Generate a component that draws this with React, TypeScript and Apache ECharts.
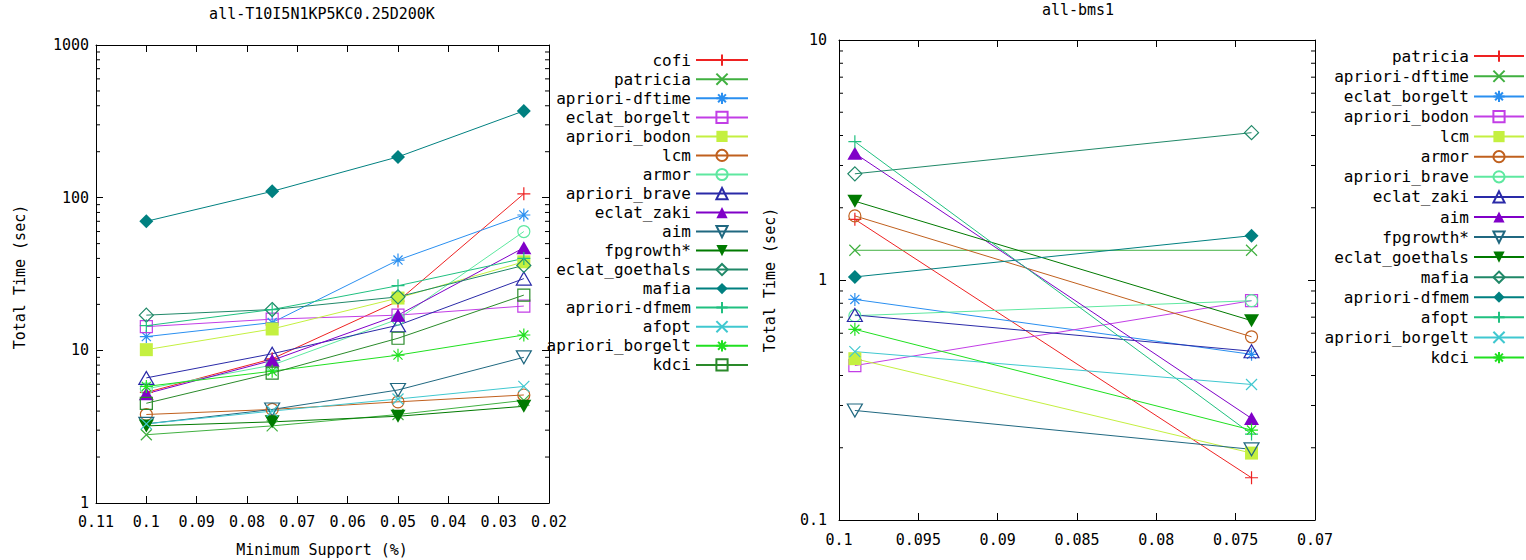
import React, { useEffect, useRef } from 'react';
import * as echarts from 'echarts';

// ---------------- data ----------------
const leftTitle = 'all-T10I5N1KP5KC0.25D200K';
const rightTitle = 'all-bms1';
const yAxisTitle = 'Total Time (sec)';
const xAxisTitle = 'Minimum Support (%)';

const leftSupport = [0.1, 0.075, 0.05, 0.025];
const rightSupport = [0.099, 0.074];

const leftNames = [
  'cofi', 'patricia', 'apriori-dftime', 'eclat_borgelt', 'apriori_bodon', 'lcm', 'armor',
  'apriori_brave', 'eclat_zaki', 'aim', 'fpgrowth*', 'eclat_goethals', 'mafia',
  'apriori-dfmem', 'afopt', 'apriori_borgelt', 'kdci',
];
const lCofi = [5.3, 8.8, 21, 106];
const lPatricia = [2.8, 3.2, 3.8, 4.7];
const lAprioriDftime = [12.3, 15.2, 39, 77];
const lEclatBorgelt = [14.3, 16, 17, 19.5];
const lAprioriBodon = [10.1, 13.8, 22, 38];
const lLcm = [3.8, 4.1, 4.6, 5.1];
const lArmor = [5.6, 8.0, 16, 60];
const lAprioriBrave = [6.6, 9.5, 14.6, 29.5];
const lEclatZaki = [5.2, 8.6, 17, 47];
const lAim = [3.3, 4.1, 5.5, 9.0];
const lFpgrowth = [3.2, 3.4, 3.7, 4.3];
const lEclatGoethals = [17, 18.5, 22.4, 36];
const lMafia = [70, 110, 185, 370];
const lAprioriDfmem = [14.5, 18.5, 26.5, 40];
const lAfopt = [3.3, 4.0, 4.8, 5.8];
const lAprioriBorgelt = [5.8, 7.3, 9.3, 12.6];
const lKdci = [4.5, 7.1, 12, 23];
const leftValues = [
  lCofi, lPatricia, lAprioriDftime, lEclatBorgelt, lAprioriBodon, lLcm, lArmor, lAprioriBrave,
  lEclatZaki, lAim, lFpgrowth, lEclatGoethals, lMafia, lAprioriDfmem, lAfopt, lAprioriBorgelt, lKdci,
];

const rightNames = [
  'patricia', 'apriori-dftime', 'eclat_borgelt', 'apriori_bodon', 'lcm', 'armor', 'apriori_brave',
  'eclat_zaki', 'aim', 'fpgrowth*', 'eclat_goethals', 'mafia', 'apriori-dfmem', 'afopt',
  'apriori_borgelt', 'kdci',
];
const rPatricia = [1.79, 0.15];
const rAprioriDftime = [1.33, 1.33];
const rEclatBorgelt = [0.83, 0.49];
const rAprioriBodon = [0.44, 0.82];
const rLcm = [0.47, 0.19];
const rArmor = [1.85, 0.58];
const rAprioriBrave = [0.71, 0.82];
const rEclatZaki = [0.715, 0.505];
const rAim = [3.37, 0.265];
const rFpgrowth = [0.286, 0.197];
const rEclatGoethals = [2.13, 0.677];
const rMafia = [2.77, 4.11];
const rAprioriDfmem = [1.03, 1.53];
const rAfopt = [3.77, 0.228];
const rAprioriBorgelt = [0.503, 0.367];
const rKdci = [0.623, 0.237];
const rightValues = [
  rPatricia, rAprioriDftime, rEclatBorgelt, rAprioriBodon, rLcm, rArmor, rAprioriBrave, rEclatZaki,
  rAim, rFpgrowth, rEclatGoethals, rMafia, rAprioriDfmem, rAfopt, rAprioriBorgelt, rKdci,
];

const leftMinorTicks = [2, 3, 4, 5, 6, 7, 8, 9, 20, 30, 40, 50, 60, 70, 80, 90, 200, 300, 400, 500, 600, 700, 800, 900];
const rightMinorTicks = [0.2, 0.3, 0.4, 0.5, 0.6, 0.7, 0.8, 0.9, 2, 3, 4, 5, 6, 7, 8, 9];

// ---------------- styles ----------------
const COLORS = [
  '#ee2222', '#40b040', '#2a8ff0', '#c23ee6', '#c4f040', '#c0601e', '#5ee8a0', '#2a2aa8',
  '#8000c8', '#206880', '#007a00', '#208868', '#008080', '#20c080', '#40c8d0', '#20e020', '#2a8a2a',
];
const P_PLUS = 'path://M5,0L5,10M0,5L10,5';
const P_CROSS = 'path://M0,0L10,10M10,0L0,10';
const P_STAR = 'path://M5,0L5,10M0,5L10,5M1.5,1.5L8.5,8.5M8.5,1.5L1.5,8.5';
const P_SQUARE = 'path://M0,0L10,0L10,10L0,10Z';
const P_CIRCLE = 'path://M0,5A5,5,0,1,1,10,5A5,5,0,1,1,0,5Z';
const P_TRI = 'path://M5,0L10,9L0,9Z';
const P_TRIDOWN = 'path://M0,0L10,0L5,9Z';
const P_DIAMOND = 'path://M5,0L10,5L5,10L0,5Z';
const SYMBOLS = [
  P_PLUS, P_CROSS, P_STAR, P_SQUARE, P_SQUARE, P_CIRCLE, P_CIRCLE, P_TRI, P_TRI,
  P_TRIDOWN, P_TRIDOWN, P_DIAMOND, P_DIAMOND, P_PLUS, P_CROSS, P_STAR, P_SQUARE,
];
const FILLED = [false, false, false, false, true, false, false, false, true, false, true, false, true, false, false, false, false];
const SIZES: any[] = [13, 11, 13, 12, 13, 12, 12, [15, 13], [15, 13], [15, 13], [15, 13], 14, 14, 13, 11, 13, 12];

const FONT = 'DejaVu Sans Mono';

function makeSeries(names: string[], values: number[][], xs: number[], axisIdx: number, prefix: string) {
  return names.map((name, k) => {
    const c = COLORS[k];
    return {
      type: 'line',
      name: prefix + name,
      xAxisIndex: axisIdx,
      yAxisIndex: axisIdx,
      data: xs.map((x, j) => [x, values[k][j]]),
      symbol: SYMBOLS[k],
      symbolSize: SIZES[k],
      showSymbol: true,
      lineStyle: { color: c, width: 1 },
      itemStyle: FILLED[k]
        ? { color: c, borderColor: c, borderWidth: 0 }
        : { color: 'none', borderColor: c, borderWidth: 1.2 },
      emphasis: { disabled: true },
      silent: true,
    };
  });
}

function minorTickSeries(ticks: number[], axisIdx: number, xMid: number, len: number) {
  return {
    type: 'custom',
    xAxisIndex: axisIdx,
    yAxisIndex: axisIdx,
    silent: true,
    data: ticks.map((v) => [xMid, v]),
    renderItem: (params: any, api: any) => {
      const cs = params.coordSys;
      const y = api.coord([api.value(0), api.value(1)])[1];
      return {
        type: 'group',
        children: [
          { type: 'line', shape: { x1: cs.x, y1: y, x2: cs.x + len, y2: y }, style: { stroke: '#000', lineWidth: 1 } },
          { type: 'line', shape: { x1: cs.x + cs.width, y1: y, x2: cs.x + cs.width - len, y2: y }, style: { stroke: '#000', lineWidth: 1 } },
        ],
      };
    },
  };
}

const axisLine = { show: true, lineStyle: { color: '#000', width: 1 } };
const axisTick = { show: true, inside: true, length: 7, lineStyle: { color: '#000', width: 1 } };
const labelStyle = { color: '#000', fontFamily: FONT, fontSize: 15 };

export default function App() {
  const ref = useRef<HTMLDivElement>(null);
  useEffect(() => {
    document.body.style.margin = '0';
    if (!ref.current) return;
    const chart = echarts.init(ref.current, undefined, { renderer: 'svg' });

    const xAxisBase = (grid: number, min: number, max: number, interval: number, pos: string, labels: boolean, margin: number) => ({
      type: 'value', gridIndex: grid, min, max, interval, inverse: true, position: pos,
      axisLine, axisTick, splitLine: { show: false },
      axisLabel: { show: labels, margin, ...labelStyle },
    });
    const yAxisBase = (grid: number, min: number, max: number, pos: string, labels: boolean, margin: number) => ({
      type: 'log', logBase: 10, gridIndex: grid, min, max, position: pos,
      axisLine, axisTick, splitLine: { show: false }, minorTick: { show: false },
      axisLabel: { show: labels, margin, formatter: (v: number) => String(v), ...labelStyle },
    });

    const legendCommon = {
      orient: 'vertical', align: 'right', padding: 0, itemHeight: 14,
      selectedMode: false,
      textStyle: { color: '#000', fontFamily: FONT, fontSize: 16, lineHeight: 14 },
    };

    chart.setOption({
      animation: false,
      grid: [
        { left: 96, top: 45, width: 453, height: 458 },
        { left: 839, top: 40, width: 476, height: 480 },
      ],
      xAxis: [
        xAxisBase(0, 0.02, 0.11, 0.01, 'bottom', true, 11),
        xAxisBase(1, 0.07, 0.1, 0.005, 'bottom', true, 12),
        xAxisBase(0, 0.02, 0.11, 0.01, 'top', false, 8),
        xAxisBase(1, 0.07, 0.1, 0.005, 'top', false, 8),
      ],
      yAxis: [
        yAxisBase(0, 1, 1000, 'left', true, 7),
        yAxisBase(1, 0.1, 10, 'left', true, 12),
        yAxisBase(0, 1, 1000, 'right', false, 8),
        yAxisBase(1, 0.1, 10, 'right', false, 8),
      ],
      legend: [
        {
          ...legendCommon, right: 777, top: 52, itemWidth: 52, itemGap: 2.9,
          data: leftNames.map((n) => n),
        },
        {
          ...legendCommon, right: 1, top: 48, itemWidth: 50, itemGap: 3.95,
          data: rightNames.map((n) => 'R:' + n),
          formatter: (name: string) => name.replace(/^R:/, ''),
        },
      ],
      graphic: [
        { type: 'text', x: 322, y: 14, style: { text: leftTitle, fill: '#000', fontFamily: FONT, fontSize: 15, align: 'center', verticalAlign: 'middle' } },
        { type: 'text', x: 1078, y: 10, style: { text: rightTitle, fill: '#000', fontFamily: FONT, fontSize: 15, align: 'center', verticalAlign: 'middle' } },
        { type: 'text', x: 322, y: 550, style: { text: xAxisTitle, fill: '#000', fontFamily: FONT, fontSize: 15, align: 'center', verticalAlign: 'middle' } },
        { type: 'text', x: 20, y: 277, rotation: Math.PI / 2, style: { text: yAxisTitle, fill: '#000', fontFamily: FONT, fontSize: 15, align: 'center', verticalAlign: 'middle' } },
        { type: 'text', x: 770, y: 280, rotation: Math.PI / 2, style: { text: yAxisTitle, fill: '#000', fontFamily: FONT, fontSize: 15, align: 'center', verticalAlign: 'middle' } },
      ],
      series: [
        minorTickSeries(leftMinorTicks, 0, 0.065, 4),
        minorTickSeries(rightMinorTicks, 1, 0.085, 4),
        ...makeSeries(leftNames, leftValues, leftSupport, 0, ''),
        ...makeSeries(rightNames, rightValues, rightSupport, 1, 'R:'),
      ],
    });
    return () => chart.dispose();
  }, []);
  return <div ref={ref} style={{ width: 1526, height: 560 }} />;
}
